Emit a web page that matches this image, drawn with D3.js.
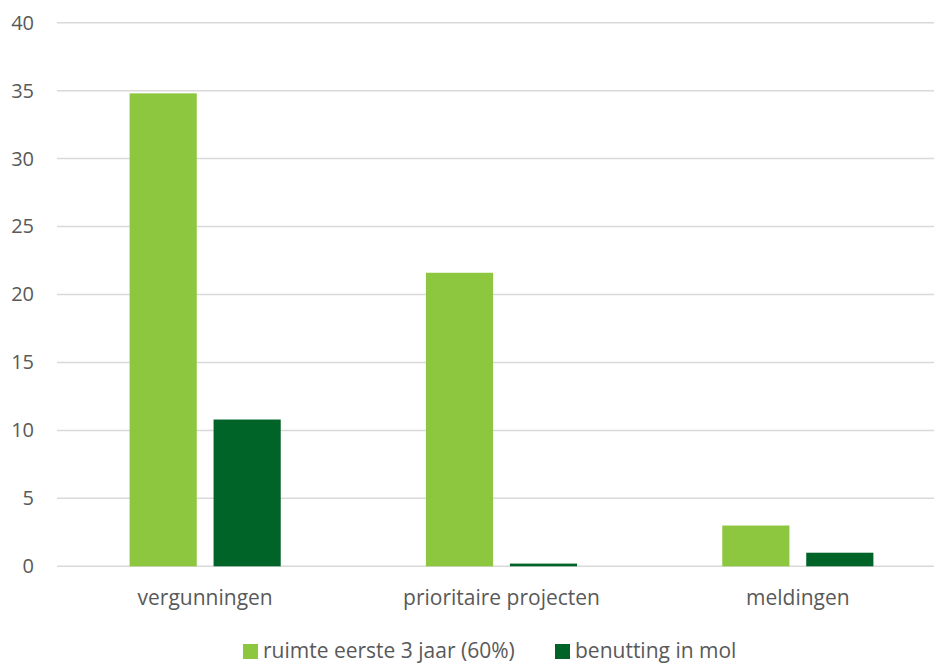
<!DOCTYPE html>
<html>
<head>
<meta charset="utf-8">
<script src="https://cdn.jsdelivr.net/npm/d3@7"></script>
<style>
  html, body { margin: 0; padding: 0; background: #fff; }
  svg { display: block; }
  text { font-family: "Open Sans", "Noto Sans", sans-serif; fill: #595959; }
</style>
</head>
<body>
<svg id="chart" width="934" height="663"></svg>
<script>
const categories = ["vergunningen", "prioritaire projecten", "meldingen"];
const seriesNames = ["ruimte eerste 3 jaar (60%)", "benutting in mol"];
const ruimte = [34.8, 21.6, 3.0];
const benutting = [10.8, 0.2, 1.0];
const yTicks = [0, 5, 10, 15, 20, 25, 30, 35, 40];
const colors = ["#8DC63F", "#006428"];

const data = categories.map((c, i) => ({ cat: c, values: [ruimte[i], benutting[i]] }));

const svg = d3.select("#chart");
const plotLeft = 57, plotRight = 946, plotTop = 22.7, plotBottom = 566.3;

const y = d3.scaleLinear().domain([0, 40]).range([plotBottom, plotTop]);
const x0 = d3.scaleBand().domain(categories).range([plotLeft, plotRight])
  .paddingInner(0.49).paddingOuter(0.245);
const x1 = d3.scaleBand().domain([0, 1]).range([0, x0.bandwidth()]).paddingInner(0.2);

// gridlines
svg.append("g").selectAll("line").data(yTicks).join("line")
  .attr("x1", plotLeft).attr("x2", 934)
  .attr("y1", d => y(d)).attr("y2", d => y(d))
  .attr("stroke", "#d9d9d9").attr("stroke-width", 1.5);

// y axis labels
const yAxis = d3.axisLeft(y).tickValues(yTicks).tickSize(0).tickPadding(0);
const ya = svg.append("g").attr("transform", `translate(34,0)`).call(yAxis);
ya.select(".domain").remove();
ya.selectAll("text").attr("font-size", 20).attr("fill", "#595959")
  .attr("font-family", "'Open Sans', sans-serif");

// bars
const groups = svg.append("g").selectAll("g").data(data).join("g")
  .attr("transform", d => `translate(${x0(d.cat)},0)`);
groups.selectAll("rect").data(d => d.values.map((v, i) => ({ v, i }))).join("rect")
  .attr("x", d => x1(d.i))
  .attr("width", x1.bandwidth())
  .attr("y", d => y(d.v))
  .attr("height", d => y(0) - y(d.v))
  .attr("fill", d => colors[d.i]);

// x axis labels
const xAxis = d3.axisBottom(x0).tickSize(0).tickPadding(0);
const xa = svg.append("g").attr("transform", `translate(0,${plotBottom + 24})`).call(xAxis);
xa.select(".domain").remove();
xa.selectAll("text").attr("font-size", 21).attr("fill", "#595959")
  .attr("font-family", "'Open Sans', sans-serif");

// legend
const legendX = [243, 555];
const leg = svg.append("g").selectAll("g").data(seriesNames).join("g")
  .attr("transform", (d, i) => `translate(${legendX[i]},644)`);
leg.append("rect").attr("width", 15).attr("height", 15).attr("fill", (d, i) => colors[i]);
leg.append("text").attr("x", 20).attr("y", 14).attr("font-size", 21).text(d => d);
</script>
</body>
</html>
